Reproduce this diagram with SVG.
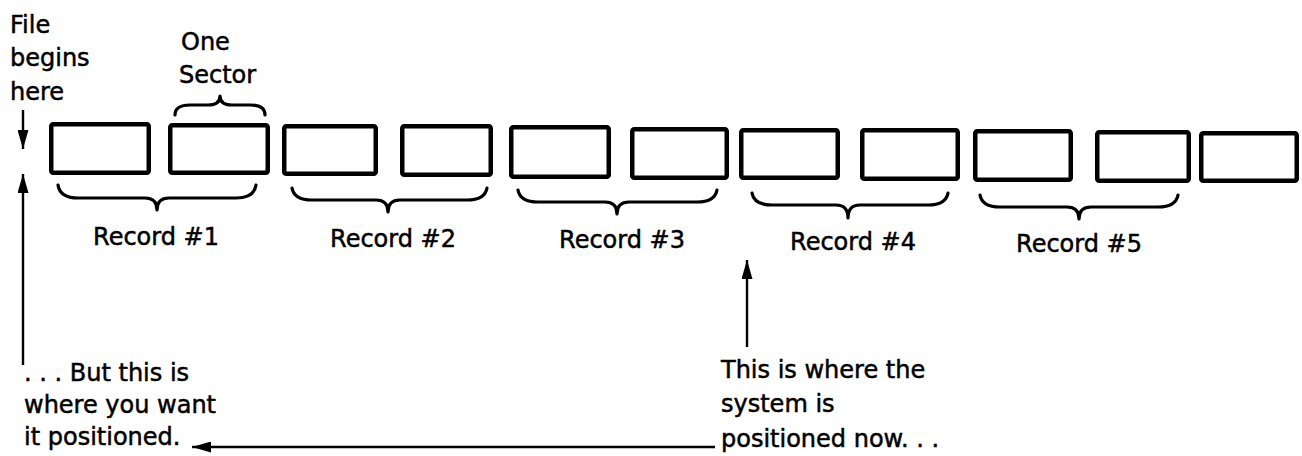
<svg xmlns="http://www.w3.org/2000/svg" width="1302" height="456" viewBox="0 0 1302 456">
<style>
text{font-family:"DejaVu Sans","Liberation Sans",sans-serif;font-size:24px;fill:#000;stroke:#000;stroke-width:0.5}
.box{fill:none;stroke:#000;stroke-width:4.5;stroke-linejoin:round}
.brace{fill:none;stroke:#000;stroke-width:3.2;stroke-linecap:round;stroke-linejoin:round}
.arrow{fill:none;stroke:#000;stroke-width:2.4}
</style>
<defs>
<marker id="ah" viewBox="0 0 19 11" refX="19" refY="5.5" markerWidth="19" markerHeight="11" markerUnits="userSpaceOnUse" orient="auto">
<path d="M0,0 L19,5.5 L0,11 z" fill="#000"/>
</marker>
</defs>
<rect width="1302" height="456" fill="#fff"/>
<g id="sectors">
<g id="s1"><rect class="box" x="51.25" y="124.25" width="97.5" height="48.5" rx="2"/></g>
<g id="s2"><rect class="box" x="170.25" y="125.25" width="97.5" height="47.5" rx="2"/></g>
<g id="s3"><rect class="box" x="284.25" y="126.25" width="91.5" height="47.5" rx="2"/></g>
<g id="s4"><rect class="box" x="402.25" y="126.25" width="88.5" height="48.5" rx="2"/></g>
<g id="s5"><rect class="box" x="511.25" y="127.25" width="97.5" height="49.5" rx="2"/></g>
<g id="s6"><rect class="box" x="632.25" y="129.25" width="94.5" height="48.5" rx="2"/></g>
<g id="s7"><rect class="box" x="741.25" y="130.25" width="96.5" height="47.5" rx="2"/></g>
<g id="s8"><rect class="box" x="862.25" y="130.25" width="95.5" height="48.5" rx="2"/></g>
<g id="s9"><rect class="box" x="975.25" y="131.25" width="95.5" height="48.5" rx="2"/></g>
<g id="s10"><rect class="box" x="1097.25" y="132.25" width="91.5" height="48.5" rx="2"/></g>
<g id="s11"><rect class="box" x="1201.25" y="133.25" width="95.5" height="47.5" rx="2"/></g>
</g>
<g id="braces">
<path class="brace" d="M175,115 Q175,105 190,105 L208,105 Q220,105 220,96 Q220,105 232,105 L250,105 Q265,105 265,115"/>
<path class="brace" d="M58,185 Q60,198 78,198 L145,198 Q157,198 157,210 Q157,198 169,198 L236,198 Q254,198 256,185"/>
<path class="brace" d="M292,188 Q294,200 312,200 L376,200 Q388,200 388,212 Q388,200 400,200 L467,200 Q485,200 487,188"/>
<path class="brace" d="M518,190 Q520,202 538,202 L605,202 Q617,202 617,214 Q617,202 629,202 L697,202 Q715,202 717,190"/>
<path class="brace" d="M752,193 Q754,205 772,205 L836,205 Q848,205 848,218 Q848,205 860,205 L928,205 Q946,205 948,193"/>
<path class="brace" d="M980,195 Q982,207 1000,207 L1067,207 Q1079,207 1079,219 Q1079,207 1091,207 L1158,207 Q1176,207 1178,195"/>
</g>
<g id="labels">
<g id="file-begins"><text x="10" y="33">File</text><text x="10" y="66">begins</text><text x="10" y="100">here</text></g>
<g id="one-sector"><text x="181" y="50">One</text><text x="179" y="83">Sector</text></g>
<g id="rec1"><text x="156" y="245" text-anchor="middle">Record #1</text></g>
<g id="rec2"><text x="393" y="247" text-anchor="middle">Record #2</text></g>
<g id="rec3"><text x="622" y="248" text-anchor="middle">Record #3</text></g>
<g id="rec4"><text x="853" y="250" text-anchor="middle">Record #4</text></g>
<g id="rec5"><text x="1079" y="252" text-anchor="middle">Record #5</text></g>
<g id="want"><text x="24" y="381">. . . But this is</text><text x="24" y="413">where you want</text><text x="24" y="445">it positioned.</text></g>
<g id="now"><text x="721" y="378">This is where the</text><text x="721" y="412">system is</text><text x="721" y="447">positioned now. . .</text></g>
</g>
<g id="connectors">
<line class="arrow" x1="23" y1="110" x2="23" y2="149" marker-end="url(#ah)"/>
<line class="arrow" x1="23" y1="365" x2="23" y2="174" marker-end="url(#ah)"/>
<line class="arrow" x1="747" y1="347" x2="747" y2="260" marker-end="url(#ah)"/>
<line class="arrow" x1="715" y1="447" x2="192" y2="447" marker-end="url(#ah)"/>
</g>
</svg>
